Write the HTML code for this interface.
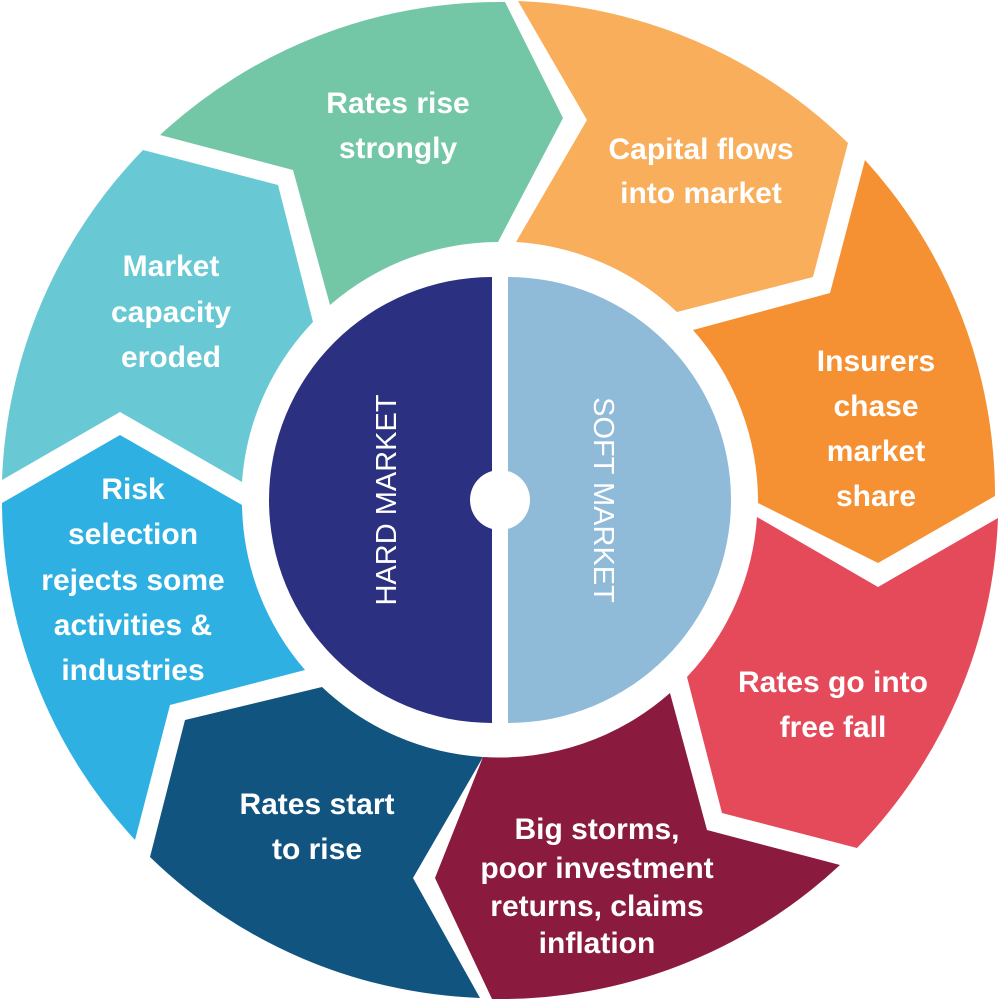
<!DOCTYPE html>
<html><head><meta charset="utf-8"><style>
html,body{margin:0;padding:0;background:#fff}
svg{display:block}
text{font-family:"Liberation Sans",sans-serif;fill:#fff;font-weight:bold;font-size:30px;text-anchor:middle}
.c{font-weight:normal;font-size:29px}
</style></head><body>
<svg width="1000" height="999" viewBox="0 0 1000 999" xmlns="http://www.w3.org/2000/svg">
<!-- green -->
<path fill="#74c7a6" d="M160,135 A499,499 0 0 1 505,2 L563,118 L498,242 A258,258 0 0 0 330,305 L293,170 Z"/>
<!-- light orange -->
<path fill="#f8ae5a" d="M518,1 A499,499 0 0 1 848,143 L813,277 L677,312 A258,258 0 0 0 516,242 L587,120 Z"/>
<!-- dark orange -->
<path fill="#f59132" d="M865,160 A499,499 0 0 1 995,496 L878,563 L758,503 A258,258 0 0 0 693,330 L830,293 Z"/>
<!-- red -->
<path fill="#e54a5a" d="M757,517 L878,587 L998,518 A499,499 0 0 1 857,848 L722,813 L687,677 A258,258 0 0 0 757,517 Z"/>
<!-- maroon -->
<path fill="#8b1a3f" d="M670,693 L707,830 L840,865 A499,499 0 0 1 492,999 L435,878 L483,757 A258,258 0 0 0 670,693 Z"/>
<!-- dark blue -->
<path fill="#125480" d="M322,687 A258,258 0 0 0 483,757 L413,878 L480,998 A499,499 0 0 1 150,857 L185,720 Z"/>
<!-- light blue -->
<path fill="#2eb1e2" d="M2,503 L120,435 L242,505 A258,258 0 0 0 305,670 L170,705 L135,840 A499,499 0 0 1 2,503 Z"/>
<!-- cyan -->
<path fill="#68c9d4" d="M143,150 L278,185 L313,322 A258,258 0 0 0 242,482 L120,412 L2,480 A499,499 0 0 1 143,150 Z"/>
<!-- center -->
<path fill="#2b3180" d="M492,277 A223,223 0 0 0 492,723 Z"/>
<path fill="#8fbad8" d="M508,277 A223,223 0 0 1 508,723 Z"/>
<circle cx="500" cy="500" r="30" fill="#fff"/>
<text class="c" transform="translate(396,500) rotate(-90)">HARD MARKET</text>
<text class="c" transform="translate(594,500) rotate(90)">SOFT MARKET</text>

<text x="398" y="113">Rates rise</text><text x="398" y="158">strongly</text>
<text x="701" y="159">Capital flows</text><text x="701" y="203">into market</text>
<text x="876" y="371">Insurers</text><text x="876" y="416">chase</text><text x="876" y="461">market</text><text x="876" y="506">share</text>
<text x="833" y="692">Rates go into</text><text x="833" y="737">free fall</text>
<text x="597" y="839">Big storms,</text><text x="597" y="878">poor investment</text><text x="597" y="916">returns, claims</text><text x="597" y="953">inflation</text>
<text x="317" y="814">Rates start</text><text x="317" y="859">to rise</text>
<text x="133" y="499">Risk</text><text x="133" y="544">selection</text><text x="133" y="590">rejects some</text><text x="133" y="635">activities &amp;</text><text x="133" y="680">industries</text>
<text x="171" y="276">Market</text><text x="171" y="322">capacity</text><text x="171" y="367">eroded</text>
</svg>
</body></html>
